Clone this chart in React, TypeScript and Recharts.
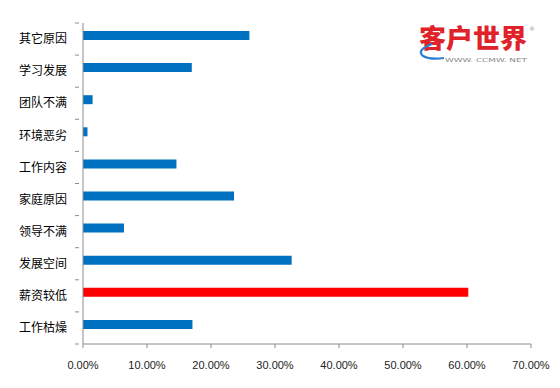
import React from "react";
import { BarChart, Bar, XAxis, YAxis, Cell, Rectangle } from "recharts";

const categories = ["其它原因", "学习发展", "团队不满", "环境恶劣", "工作内容", "家庭原因", "领导不满", "发展空间", "薪资较低", "工作枯燥"];
const values = [0.26, 0.17, 0.015, 0.007, 0.146, 0.236, 0.064, 0.326, 0.602, 0.171];
const highlight = [false, false, false, false, false, false, false, false, true, false];
const xTicks = [0, 0.1, 0.2, 0.3, 0.4, 0.5, 0.6, 0.7];

const data = categories.map((name, i) => ({ name, value: values[i], hi: highlight[i] }));

const W = 560;
const H = 388;
const TOP = 23;
const BOTTOM = 14;
const XAXIS_H = 30;
const BAND = (H - TOP - BOTTOM - XAXIS_H) / categories.length;
const AXIS_COLOR = "#8c8c8c";
const BLUE = "#0070C0";
const RED = "#FF0000";

const YTick = (props: any) => {
  const { x, y, payload, index } = props;
  const axisX = x + 4;
  return (
    <g>
      <line x1={axisX - 4} x2={axisX} y1={y - BAND / 2} y2={y - BAND / 2} stroke={AXIS_COLOR} />
      {index === categories.length - 1 && (
        <line x1={axisX - 4} x2={axisX} y1={y + BAND / 2} y2={y + BAND / 2} stroke={AXIS_COLOR} />
      )}
      <text x={x - 8} y={y} dy="0.35em" textAnchor="end" fontSize={12} fill="#000" fontFamily="'Noto Sans CJK SC', sans-serif">
        {payload.value}
      </text>
    </g>
  );
};

const ShiftedBar = (props: any) => <Rectangle {...props} y={props.y - 4} />;

export default function App() {
  return (
    <div style={{ position: "absolute", left: 0, top: 0, width: W, height: H, background: "#fff" }}>
      <BarChart
        width={W}
        height={H}
        data={data}
        layout="vertical"
        margin={{ top: TOP, right: 29, bottom: BOTTOM, left: 0 }}
        barCategoryGap={0}
      >
        <XAxis
          type="number"
          domain={[0, 0.7]}
          ticks={xTicks}
          tickFormatter={(v: number) => (v * 100).toFixed(2) + "%"}
          stroke={AXIS_COLOR}
          tickSize={4}
          tickMargin={13}
          height={XAXIS_H}
          tick={{ fontSize: 11, fill: "#222", fontFamily: "'Liberation Sans', Arial, sans-serif" }}
          interval={0}
        />
        <YAxis
          type="category"
          dataKey="name"
          width={83}
          stroke={AXIS_COLOR}
          tickLine={false}
          tick={<YTick />}
          interval={0}
        />
        <Bar dataKey="value" barSize={9} isAnimationActive={false} shape={<ShiftedBar />}>
          {data.map((d, i) => (
            <Cell key={i} fill={d.hi ? RED : BLUE} />
          ))}
        </Bar>
      </BarChart>
      <svg width={W} height={H} style={{ position: "absolute", left: 0, top: 0, pointerEvents: "none" }}>
        <text x={419} y={48} fontSize={26} fontWeight={900} fill="#E0222A" fontFamily="'Noto Sans CJK SC', sans-serif" textLength={108} lengthAdjust="spacingAndGlyphs">
          客户世界
        </text>
        <text x={529} y={31} fontSize={6} fill="#999" fontFamily="'DejaVu Sans', sans-serif">®</text>
        <path d="M432 44 Q416 50 423 56 Q430 60 444 58" stroke="#2a7fd0" strokeWidth={2.2} fill="none" />
        <text x={445} y={62} fontSize={5.5} fill="#888" fontFamily="'DejaVu Sans', sans-serif" textLength={82} lengthAdjust="spacingAndGlyphs">
          WWW. CCMW. NET
        </text>
      </svg>
    </div>
  );
}
